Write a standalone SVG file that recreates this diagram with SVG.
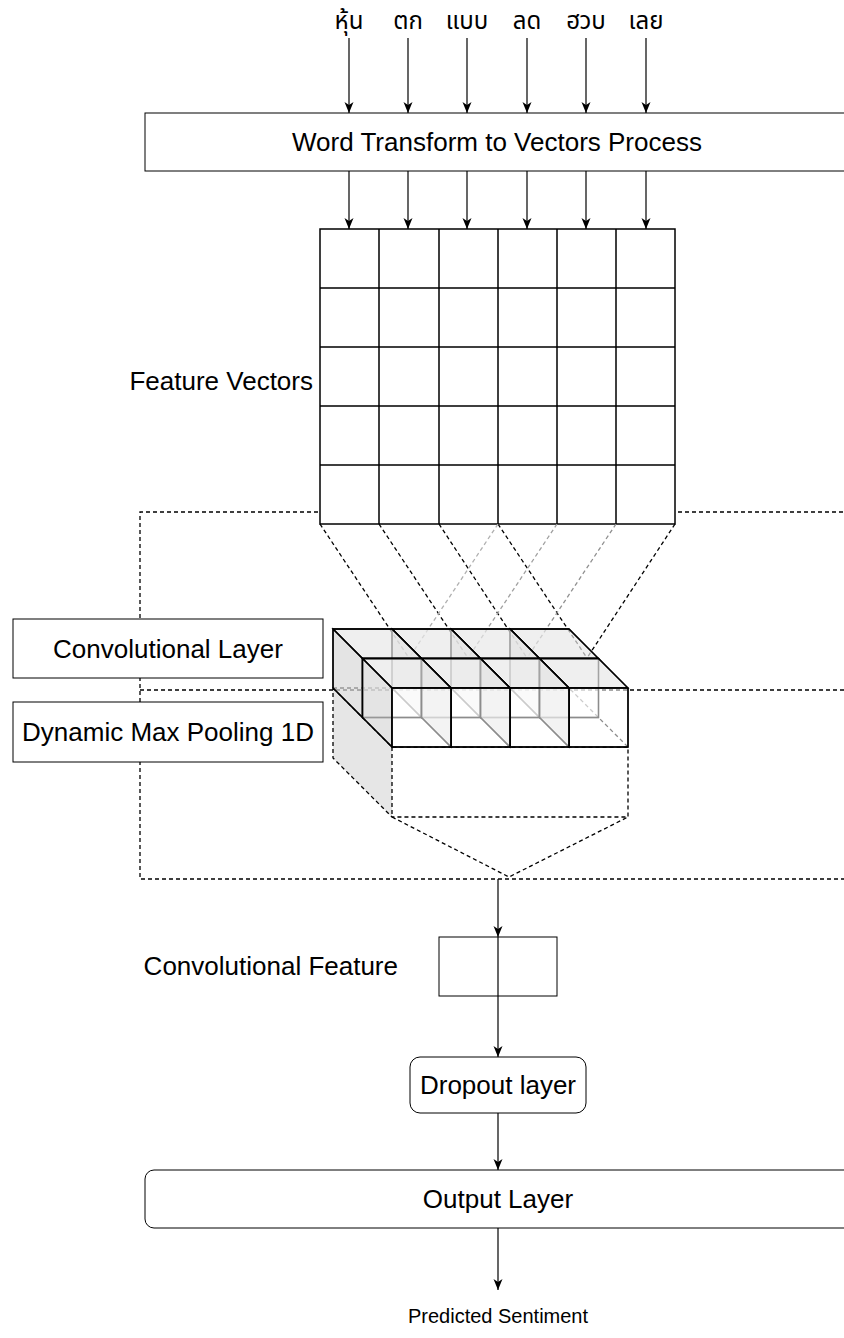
<svg xmlns="http://www.w3.org/2000/svg" width="844" height="1338" viewBox="0 0 844 1338">
<style>
text{font-family:"Liberation Sans",Arial,sans-serif;font-size:26px;fill:#000}
.th{font-family:"Noto Sans Thai","Noto Sans","DejaVu Sans",sans-serif;font-size:24px}
.sm{font-size:20px}
.box{fill:#fff;stroke:#000;stroke-width:1}
.cell{fill:#fff;stroke:#000;stroke-width:1.5}
.dash{fill:none;stroke:#000;stroke-width:1.3;stroke-dasharray:4 3}
.arr{fill:none;stroke:#000;stroke-width:1.2;marker-end:url(#ah)}
.cube{stroke:#000;stroke-width:1.3;stroke-linejoin:miter}
.ft{fill:#fff;fill-opacity:0.55}
.tp{fill:#e8e8e8;fill-opacity:0.7}
.lf{fill:#d8d8d8;fill-opacity:0.7}
</style>
<defs>
<marker id="ah" markerUnits="userSpaceOnUse" markerWidth="12" markerHeight="10" refX="11" refY="5" orient="auto">
<path d="M0,0.5 L11,5 L0,9.5 L3,5 z" fill="#000"/>
</marker>
</defs>

<g id="container-conv">
<path class="dash" d="M850,512 L140,512 L140,879 L850,879"/>
</g>
<g id="container-pool">
<path class="dash" d="M140,690 L850,690"/>
</g>

<g id="words">
<text class="th" x="349" y="29" text-anchor="middle">หุ้น</text>
<text class="th" x="408" y="29" text-anchor="middle">ตก</text>
<text class="th" x="467" y="29" text-anchor="middle">แบบ</text>
<text class="th" x="527" y="29" text-anchor="middle">ลด</text>
<text class="th" x="586" y="29" text-anchor="middle">ฮวบ</text>
<text class="th" x="646" y="29" text-anchor="middle">เลย</text>
</g>

<g id="word-transform">
<rect class="box" x="145" y="113" width="710" height="58"/>
<text x="497" y="151" text-anchor="middle">Word Transform to Vectors Process</text>
</g>

<g id="feature-vectors">
<rect class="cell" x="320" y="229" width="355" height="295"/>
<path fill="none" stroke="#000" stroke-width="1.5" d="M379,229V524M439,229V524M498,229V524M557,229V524M616,229V524M320,288H675M320,347H675M320,406H675M320,465H675"/>
<text x="313" y="390" text-anchor="end">Feature Vectors</text>
</g>

<g id="pool-cube">
<path d="M333,688 L392,747 L392,817 L333,758 Z" fill="#e6e6e6"/>
<rect x="392" y="747" width="236" height="70" fill="#fff"/>
<path class="dash" d="M333,688 L569,688 L628,747 L628,817 L392,817 L333,758 Z M333,688 L392,747 L628,747 M392,747 L392,817"/>
</g>

<g id="connectors">
<g class="dash">
<path d="M320,524 L409,658"/>
<path d="M379,524 L468,658"/>
<path d="M439,524 L527,658"/>
<path d="M498,524 L587,658"/>
<path d="M498,524 L409,658" stroke="#b0b0b0"/>
<path d="M557,524 L468,658" stroke="#a0a0a0"/>
<path d="M616,524 L527,658" stroke="#909090"/>
<path d="M675,524 L587,658"/>
<path d="M392,817 L509,877 L628,817"/>
</g>
<path class="arr" d="M349,38V113"/>
<path class="arr" d="M408,38V113"/>
<path class="arr" d="M467,38V113"/>
<path class="arr" d="M527,38V113"/>
<path class="arr" d="M586,38V113"/>
<path class="arr" d="M646,38V113"/>
<path class="arr" d="M349,171V229"/>
<path class="arr" d="M408,171V229"/>
<path class="arr" d="M467,171V229"/>
<path class="arr" d="M527,171V229"/>
<path class="arr" d="M586,171V229"/>
<path class="arr" d="M646,171V229"/>
</g>

<g id="conv-cubes">
<g id="row1">
<g class="cube"><path class="tp" d="M510,629H569L598.5,658.5H539.5Z"/><path class="lf" d="M510,629L539.5,658.5V717.5L510,688Z"/><rect class="ft" x="539.5" y="658.5" width="59" height="59"/><path fill="none" d="M510,629H569L598.5,658.5V717.5H539.5L510,688Z M510,629L539.5,658.5H598.5 M539.5,658.5V717.5"/></g>
<g class="cube"><path class="tp" d="M451,629H510L539.5,658.5H480.5Z"/><path class="lf" d="M451,629L480.5,658.5V717.5L451,688Z"/><rect class="ft" x="480.5" y="658.5" width="59" height="59"/><path fill="none" d="M451,629H510L539.5,658.5V717.5H480.5L451,688Z M451,629L480.5,658.5H539.5 M480.5,658.5V717.5"/></g>
<g class="cube"><path class="tp" d="M392,629H451L480.5,658.5H421.5Z"/><path class="lf" d="M392,629L421.5,658.5V717.5L392,688Z"/><rect class="ft" x="421.5" y="658.5" width="59" height="59"/><path fill="none" d="M392,629H451L480.5,658.5V717.5H421.5L392,688Z M392,629L421.5,658.5H480.5 M421.5,658.5V717.5"/></g>
<g class="cube"><path class="tp" d="M333,629H392L421.5,658.5H362.5Z"/><path class="lf" d="M333,629L362.5,658.5V717.5L333,688Z"/><rect class="ft" x="362.5" y="658.5" width="59" height="59"/><path fill="none" d="M333,629H392L421.5,658.5V717.5H362.5L333,688Z M333,629L362.5,658.5H421.5 M362.5,658.5V717.5"/></g>
</g>
<g id="row2">
<g class="cube"><path class="tp" d="M539.5,658.5H598.5L628,688H569Z"/><path class="lf" d="M539.5,658.5L569,688V747L539.5,717.5Z"/><rect class="ft" x="569" y="688" width="59" height="59"/><path fill="none" d="M539.5,658.5H598.5L628,688V747H569L539.5,717.5Z M539.5,658.5L569,688H628 M569,688V747"/></g>
<g class="cube"><path class="tp" d="M480.5,658.5H539.5L569,688H510Z"/><path class="lf" d="M480.5,658.5L510,688V747L480.5,717.5Z"/><rect class="ft" x="510" y="688" width="59" height="59"/><path fill="none" d="M480.5,658.5H539.5L569,688V747H510L480.5,717.5Z M480.5,658.5L510,688H569 M510,688V747"/></g>
<g class="cube"><path class="tp" d="M421.5,658.5H480.5L510,688H451Z"/><path class="lf" d="M421.5,658.5L451,688V747L421.5,717.5Z"/><rect class="ft" x="451" y="688" width="59" height="59"/><path fill="none" d="M421.5,658.5H480.5L510,688V747H451L421.5,717.5Z M421.5,658.5L451,688H510 M451,688V747"/></g>
<g class="cube"><path class="tp" d="M362.5,658.5H421.5L451,688H392Z"/><path class="lf" d="M362.5,658.5L392,688V747L362.5,717.5Z"/><rect class="ft" x="392" y="688" width="59" height="59"/><path fill="none" d="M362.5,658.5H421.5L451,688V747H392L362.5,717.5Z M362.5,658.5L392,688H451 M392,688V747"/></g>
</g>
</g>

<g id="conv-layer-label">
<rect class="box" x="13" y="619" width="310" height="59"/>
<text x="168" y="658" text-anchor="middle">Convolutional Layer</text>
</g>
<g id="pool-label">
<rect class="box" x="13" y="702" width="310" height="60"/>
<text x="168" y="741" text-anchor="middle">Dynamic Max Pooling 1D</text>
</g>

<g id="conv-feature">
<rect class="box" x="439" y="937" width="118" height="59"/>
<text x="398" y="975" text-anchor="end">Convolutional Feature</text>
</g>

<g id="dropout">
<rect class="box" x="410" y="1057" width="176" height="56" rx="10"/>
<text x="498" y="1094" text-anchor="middle">Dropout layer</text>
</g>

<g id="output">
<rect class="box" x="145" y="1170" width="710" height="58" rx="9"/>
<text x="498" y="1208" text-anchor="middle">Output Layer</text>
</g>

<g id="flow-connectors">
<path class="arr" d="M498,879V937"/>
<path class="arr" d="M498,937V1057"/>
<path class="arr" d="M498,1113V1170"/>
<path class="arr" d="M498,1228V1290"/>
</g>

<g id="predicted">
<text class="sm" x="498" y="1323" text-anchor="middle">Predicted Sentiment</text>
</g>
</svg>
